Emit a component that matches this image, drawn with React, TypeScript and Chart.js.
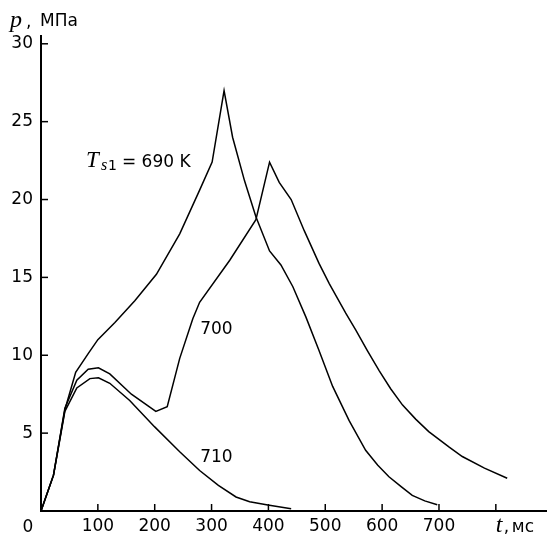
import React, { useEffect, useRef } from "react";
import { Chart, registerables } from "chart.js";

Chart.register(...registerables);

// Curve T_s1 = 690 K
const T690 = [0, 22, 42, 61, 83, 100, 130, 165, 203, 244, 279, 301, 322, 337, 358, 378, 402, 422, 443, 466, 489, 513, 542, 571, 592, 612, 634, 653, 675, 697];
const P690 = [0, 2.3, 6.5, 8.9, 10.1, 11.0, 12.1, 13.5, 15.2, 17.8, 20.6, 22.4, 27.0, 24.0, 21.2, 18.9, 16.7, 15.8, 14.4, 12.45, 10.3, 8.0, 5.8, 3.9, 2.95, 2.2, 1.55, 1.0, 0.65, 0.4];

// Curve 700 K
const T700 = [0, 22, 42, 63, 83, 101, 121, 159, 202, 222, 244, 267, 279, 332, 378, 402, 419, 440, 463, 489, 507, 536, 554, 574, 595, 615, 636, 659, 682, 718, 741, 780, 820];
const P700 = [0, 2.3, 6.6, 8.4, 9.1, 9.2, 8.8, 7.5, 6.4, 6.7, 9.8, 12.35, 13.4, 16.1, 18.7, 22.4, 21.1, 20.0, 18.0, 15.9, 14.6, 12.7, 11.6, 10.3, 9.0, 7.85, 6.8, 5.9, 5.1, 4.1, 3.5, 2.75, 2.1];

// Curve 710 K
const T710 = [0, 22, 42, 63, 86, 101, 121, 156, 200, 244, 279, 312, 343, 367, 399, 440];
const P710 = [0, 2.3, 6.4, 7.9, 8.5, 8.55, 8.2, 7.1, 5.4, 3.8, 2.6, 1.65, 0.9, 0.6, 0.38, 0.15];

const X_TICKS = [100, 200, 300, 400, 500, 600, 700, 800];
const X_TICK_LABELS = ["100", "200", "300", "400", "500", "600", "700", ""];
const Y_TICKS = [5, 10, 15, 20, 25, 30];

const SANS = '"DejaVu Sans"';
const SERIF = '"Liberation Serif"';

const toPts = (ts: number[], ps: number[]) => ts.map((t, i) => ({ x: t, y: ps[i] }));

const decorPlugin = {
  id: "decor",
  afterDraw(chart: any) {
    const ctx = chart.ctx;
    const xs = chart.scales.x;
    const ys = chart.scales.y;
    const ca = chart.chartArea;
    ctx.save();
    ctx.strokeStyle = "#000";
    ctx.fillStyle = "#000";
    ctx.lineWidth = 1.5;
    // inner tick marks
    X_TICKS.forEach((v) => {
      const px = xs.getPixelForValue(v);
      ctx.beginPath();
      ctx.moveTo(px, ca.bottom);
      ctx.lineTo(px, ca.bottom - 7);
      ctx.stroke();
    });
    Y_TICKS.forEach((v) => {
      const py = ys.getPixelForValue(v);
      ctx.beginPath();
      ctx.moveTo(ca.left, py);
      ctx.lineTo(ca.left + 7, py);
      ctx.stroke();
    });

    ctx.textBaseline = "alphabetic";
    ctx.textAlign = "left";
    // y axis title
    ctx.font = `italic 24px ${SERIF}`;
    ctx.fillText("p", 10, 27);
    ctx.font = `17px ${SANS}`;
    ctx.fillText(",", 26, 27);
    ctx.fillText("МПа", 40, 26);

    // origin label
    ctx.textAlign = "center";
    ctx.fillText("0", 28, 532);

    // x axis title
    ctx.textAlign = "left";
    const tx = xs.getPixelForValue(800);
    ctx.font = `italic 24px ${SERIF}`;
    ctx.fillText("t", tx, 532);
    ctx.font = `17px ${SANS}`;
    ctx.fillText(",", tx + 8, 532);
    ctx.fillText("мс", tx + 16, 532);

    // curve labels
    const ax = xs.getPixelForValue(79);
    const ay = ys.getPixelForValue(22.08);
    ctx.font = `italic 23px ${SERIF}`;
    ctx.fillText("T", ax, ay);
    ctx.font = `italic 16px ${SERIF}`;
    ctx.fillText("s", ax + 15, ay + 3);
    ctx.font = `14px ${SANS}`;
    ctx.fillText("1", ax + 22, ay + 3);
    ctx.font = `17px ${SANS}`;
    ctx.fillText("= 690 K", ax + 36, ay);

    ctx.fillText("700", xs.getPixelForValue(280), ys.getPixelForValue(11.36));
    ctx.fillText("710", xs.getPixelForValue(280), ys.getPixelForValue(3.14));
    ctx.restore();
  },
};

export default function App() {
  const ref = useRef<HTMLCanvasElement | null>(null);
  useEffect(() => {
    if (!ref.current) return;
    const line = (data: any[]) => ({
      data,
      borderColor: "#000",
      borderWidth: 1.5,
      pointRadius: 0,
      tension: 0,
      fill: false,
    });
    const chart = new Chart(ref.current, {
      type: "line",
      data: {
        datasets: [
          line(toPts(T690, P690)),
          line(toPts(T700, P700)),
          line(toPts(T710, P710)),
        ],
      },
      options: {
        animation: false,
        responsive: true,
        maintainAspectRatio: false,
        layout: { padding: { top: 36, right: 0, left: 0, bottom: 0 } },
        plugins: { legend: { display: false }, tooltip: { enabled: false } },
        scales: {
          x: {
            type: "linear",
            min: 0,
            max: 890,
            grid: { display: false, drawTicks: false },
            border: { display: true, color: "#000", width: 2 },
            afterFit: (s: any) => {
              s.height = 27;
            },
            afterBuildTicks: (s: any) => {
              s.ticks = X_TICKS.map((v) => ({ value: v }));
            },
            ticks: {
              padding: 5,
              color: "#000",
              font: { family: "DejaVu Sans", size: 17 },
              maxRotation: 0,
              autoSkip: false,
              callback: (v: any) => {
                const i = X_TICKS.indexOf(Number(v));
                return i >= 0 ? X_TICK_LABELS[i] : "";
              },
            },
          },
          y: {
            type: "linear",
            min: 0,
            max: 30.5,
            grid: { display: false, drawTicks: false },
            border: { display: true, color: "#000", width: 2 },
            afterFit: (s: any) => {
              s.width = 41;
            },
            afterBuildTicks: (s: any) => {
              s.ticks = Y_TICKS.map((v) => ({ value: v }));
            },
            ticks: {
              padding: 8,
              color: "#000",
              font: { family: "DejaVu Sans", size: 17 },
              autoSkip: false,
              callback: (v: any) => String(v),
            },
          },
        },
      },
      plugins: [decorPlugin],
    });
    return () => chart.destroy();
  }, []);
  return (
    <div style={{ position: "absolute", left: 0, top: 0, width: 547, height: 538, background: "#fff" }}>
      <canvas ref={ref} />
    </div>
  );
}
